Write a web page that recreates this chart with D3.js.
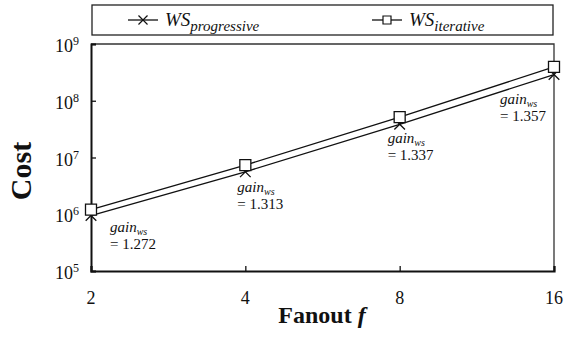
<!DOCTYPE html>
<html>
<head>
<meta charset="utf-8">
<script src="https://cdn.jsdelivr.net/npm/d3@7"></script>
<style>
  html, body { margin: 0; padding: 0; background: #fff; }
  svg { display: block; }
</style>
</head>
<body>
<svg id="chart" width="564" height="342"></svg>
<script>
// Fanout values on the x axis
const fanouts = [2, 4, 8, 16];
// Cost of each strategy per fanout
const progressive = [0.95e6, 5.6e6, 3.85e7, 2.9e8];
const iterative = [1.21e6, 7.35e6, 5.15e7, 3.94e8];
// Gain of the progressive strategy at each fanout
const gains = ["1.272", "1.313", "1.337", "1.357"];
// Axis ticks
const yTickExponents = [5, 6, 7, 8, 9];
const xTickValues = [2, 4, 8, 16];

// Placement of each gain note relative to its point (dx, dy to the first baseline)
const noteOffsets = [[19, 16], [-8, 20], [-12, 19], [-54, 29]];

const SERIF = "'Liberation Serif', 'Times New Roman', Times, serif";

const svg = d3.select("#chart");
const plotLeft = 91, plotRight = 554, plotTop = 44, plotBottom = 271;

// Text helper that always carries the serif face
function addText(parent, xPos, yPos, size) {
  return parent.append("text")
    .attr("x", xPos).attr("y", yPos)
    .attr("font-family", SERIF)
    .attr("font-size", size)
    .attr("fill", "#111");
}

const x = d3.scaleLog().base(2).domain([2, 16]).range([plotLeft, plotRight]);
const y = d3.scaleLog().domain([1e5, 1e9]).range([plotBottom, plotTop]);

// Frame: thin top and right edges
svg.append("path")
  .attr("d", `M${plotLeft},${plotTop}H${plotRight}V${plotBottom}`)
  .attr("fill", "none").attr("stroke", "#333").attr("stroke-width", 1.3);

// Y axis with inward ticks
const yAxis = d3.axisLeft(y)
  .tickValues(yTickExponents.map(e => Math.pow(10, e)))
  .tickSize(-5).tickFormat("");
const gy = svg.append("g").attr("transform", `translate(${plotLeft},0)`).call(yAxis);
gy.select(".domain").attr("stroke", "#111").attr("stroke-width", 2);
gy.selectAll(".tick line").attr("stroke", "#111").attr("stroke-width", 1.3);

yTickExponents.forEach(e => {
  const t = addText(svg, 79, y(Math.pow(10, e)) + 8, 18).attr("text-anchor", "end");
  t.append("tspan").text("10");
  t.append("tspan").attr("dy", -7).attr("font-size", 12).text(e);
});

// X axis with inward ticks
const xAxis = d3.axisBottom(x).tickValues(xTickValues).tickSize(-5).tickFormat("");
const gx = svg.append("g").attr("transform", `translate(0,${plotBottom})`).call(xAxis);
gx.select(".domain").attr("stroke", "#111").attr("stroke-width", 2.2);
gx.selectAll(".tick line").attr("stroke", "#111").attr("stroke-width", 1.3);

xTickValues.forEach(v => {
  addText(svg, x(v), 304, 18).attr("text-anchor", "middle").text(v);
});

// Axis titles
const xt = addText(svg, 322, 323, 24)
  .attr("text-anchor", "middle").attr("font-weight", "bold");
xt.append("tspan").text("Fanout ");
xt.append("tspan").attr("font-style", "italic").text("f");

addText(svg, 0, 0, 30)
  .attr("transform", "translate(31,171) rotate(-90)")
  .attr("text-anchor", "middle").attr("font-weight", "bold")
  .text("Cost");

// Series lines
const line = d3.line().x(d => x(d[0])).y(d => y(d[1]));
const seriesP = fanouts.map((f, i) => [f, progressive[i]]);
const seriesI = fanouts.map((f, i) => [f, iterative[i]]);

[seriesP, seriesI].forEach(s => {
  svg.append("path").datum(s).attr("d", line)
    .attr("fill", "none").attr("stroke", "#111").attr("stroke-width", 1.3);
});

const crossSym = d3.symbol(d3.symbolTimes).size(75);
const squareSym = d3.symbol(d3.symbolSquare).size(121);

svg.selectAll(".mk-p").data(seriesP).join("path")
  .attr("class", "mk-p")
  .attr("transform", d => `translate(${x(d[0])},${y(d[1])})`)
  .attr("d", crossSym)
  .attr("fill", "none").attr("stroke", "#111").attr("stroke-width", 1.3);

svg.selectAll(".mk-i").data(seriesI).join("path")
  .attr("class", "mk-i")
  .attr("transform", d => `translate(${x(d[0])},${y(d[1])})`)
  .attr("d", squareSym)
  .attr("fill", "#fff").attr("stroke", "#111").attr("stroke-width", 1.3);

// Gain notes
fanouts.forEach((f, i) => {
  const px = x(f) + noteOffsets[i][0];
  const py = y(progressive[i]) + noteOffsets[i][1];
  const g1 = addText(svg, px, py, 15).attr("font-style", "italic");
  g1.append("tspan").text("gain");
  g1.append("tspan").attr("dy", 3).attr("font-size", 10).text("ws");
  addText(svg, px, py + 17, 15).text("= " + gains[i]);
});

// Legend
svg.append("rect")
  .attr("x", 92).attr("y", 5).attr("width", 461).attr("height", 30)
  .attr("fill", "#fff").attr("stroke", "#222").attr("stroke-width", 1.3);

const legendItems = [
  { name: "progressive", sym: d3.symbol(d3.symbolTimes).size(55), x0: 128, fill: "none" },
  { name: "iterative", sym: d3.symbol(d3.symbolSquare).size(64), x0: 372, fill: "#fff" }
];
legendItems.forEach(it => {
  svg.append("line")
    .attr("x1", it.x0).attr("x2", it.x0 + 30).attr("y1", 20).attr("y2", 20)
    .attr("stroke", "#111").attr("stroke-width", 1.3);
  svg.append("path")
    .attr("transform", `translate(${it.x0 + 15},20)`)
    .attr("d", it.sym())
    .attr("fill", it.fill).attr("stroke", "#111").attr("stroke-width", 1.2);
  const t = addText(svg, it.x0 + 37, 26, 19).attr("font-style", "italic");
  t.append("tspan").text("WS");
  t.append("tspan").attr("dy", 5).attr("font-size", 15).text(it.name);
});
</script>
</body>
</html>
